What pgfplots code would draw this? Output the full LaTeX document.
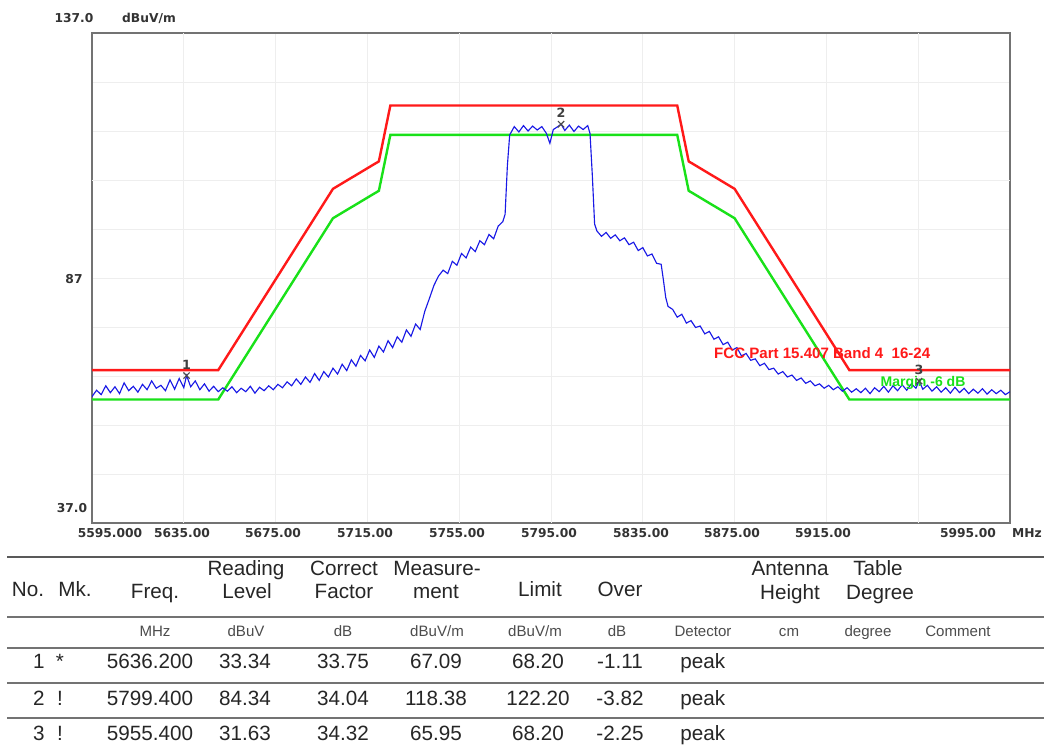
\documentclass[border=0pt]{standalone}
\usepackage{fontspec}
\setmainfont{Liberation Sans}
\newfontfamily\axfont{DejaVu Sans}
\usepackage{pgfplots}
\pgfplotsset{compat=1.18}
\definecolor{limred}{RGB}{255,25,25}
\definecolor{margreen}{RGB}{25,225,25}
\definecolor{trace}{RGB}{25,25,230}
\definecolor{frame}{RGB}{115,115,115}

\begin{document}
\begin{tikzpicture}
\useasboundingbox[fill=white] (0pt,0pt) rectangle (783pt,563.25pt);
\begin{axis}[
  at={(69pt,171pt)}, anchor=south west,
  width=688.5pt, height=367.5pt, scale only axis,
  xmin=5595, xmax=5995, ymin=37, ymax=137,
  xtick={5595,5635,...,5995}, ytick={47,57,...,127},
  xticklabels={}, yticklabels={},
  major tick length=0pt,
  grid=major,
  major grid style={gray!13, line width=0.6pt},
  extra x ticks={5635,5755,5795,5955}, extra x tick labels={},
  extra y ticks={107}, extra y tick labels={},
  extra tick style={grid style={gray!50, line width=0.7pt}},
  axis line style={frame, line width=1.3pt},
]
% limit line and margin line
\addplot[limred, line width=1.8pt] coordinates {
 (5595,68.2) (5650,68.2) (5700,105.2) (5720,110.8) (5725,122.2)
 (5850,122.2) (5855,110.8) (5875,105.2) (5925,68.2) (5995,68.2)};
\addplot[margreen, line width=1.8pt] coordinates {
 (5595,62.2) (5650,62.2) (5700,99.2) (5720,104.8) (5725,116.2)
 (5850,116.2) (5855,104.8) (5875,99.2) (5925,62.2) (5995,62.2)};
% measured trace
\addplot[trace, line width=0.85pt] table {
f v
5595 62.8
5597 64.1
5599 63.2
5601 65.0
5603 63.6
5605 64.8
5607 63.4
5609 65.6
5611 64.0
5613 64.9
5615 63.7
5617 65.3
5619 64.2
5621 66.0
5623 64.5
5625 65.1
5627 64.0
5629 66.2
5631 64.3
5633 66.5
5635 64.6
5636.2 67.1
5638 64.8
5640 66.0
5642 64.2
5644 65.4
5646 63.9
5648 64.9
5650 63.8
5652 64.6
5654 63.9
5656 64.8
5658 63.6
5660 64.5
5662 63.8
5664 64.9
5666 63.5
5668 64.7
5670 64.0
5672 65.0
5674 64.2
5676 65.3
5678 64.6
5680 65.8
5682 65.0
5684 66.4
5686 65.3
5688 66.8
5690 65.7
5692 67.5
5694 66.1
5696 67.9
5698 66.8
5700 68.6
5702 67.4
5704 69.4
5706 68.1
5708 70.3
5710 69.0
5712 71.2
5714 70.1
5716 72.3
5718 70.8
5720 73.1
5722 71.9
5724 74.2
5726 72.8
5728 75.0
5730 73.9
5732 76.4
5734 75.1
5736 77.6
5738 76.5
5740 80.2
5742 82.8
5744 85.5
5746 87.4
5748 88.6
5750 87.9
5752 90.4
5754 89.6
5756 92.0
5758 91.1
5760 93.3
5762 92.4
5764 94.6
5766 93.8
5768 95.9
5770 95.0
5772 97.6
5774 98.5
5775 100.0
5776 110.0
5777 116.2
5779 117.9
5781 116.8
5783 118.1
5785 117.0
5787 118.0
5789 117.2
5791 117.9
5793 116.5
5794.5 114.5
5796 117.3
5798 117.9
5799.4 118.4
5801 117.1
5803 118.2
5805 116.9
5807 118.0
5809 117.3
5811 118.1
5812 116.5
5813 108.0
5814 98.0
5815 96.6
5817 95.5
5819 96.3
5821 95.1
5823 95.8
5825 94.6
5827 95.2
5829 93.8
5831 94.3
5833 92.6
5835 93.2
5837 91.5
5839 91.9
5841 90.0
5843 89.8
5844 86.5
5845 83.0
5846 81.2
5848 80.6
5850 79.0
5852 79.6
5854 77.8
5856 78.3
5858 76.9
5860 77.2
5862 75.6
5864 76.1
5866 74.5
5868 75.0
5870 73.4
5872 73.9
5874 72.3
5876 72.8
5878 71.1
5880 71.6
5882 70.2
5884 70.5
5886 69.1
5888 69.6
5890 68.3
5892 68.6
5894 67.4
5896 67.9
5898 66.8
5900 67.2
5902 66.1
5904 66.6
5906 65.5
5908 66.0
5910 65.0
5912 65.4
5914 64.5
5916 65.1
5918 64.2
5920 64.8
5922 63.9
5924 64.6
5926 63.7
5928 64.4
5930 63.6
5932 64.5
5934 63.4
5936 64.6
5938 63.8
5940 64.9
5942 63.7
5944 65.0
5946 64.0
5948 65.2
5950 64.1
5952 65.4
5954 64.5
5955.4 66.0
5957 64.3
5959 65.1
5961 63.9
5963 64.8
5965 63.7
5967 64.6
5969 63.5
5971 64.7
5973 63.6
5975 64.5
5977 63.4
5979 64.3
5981 63.5
5983 64.4
5985 63.3
5987 64.2
5989 63.4
5991 64.1
5993 63.2
5995 63.8
};
% markers
\addplot[only marks, mark=x, mark size=3.3pt, black!70, line width=0.9pt,
  point meta=explicit symbolic, nodes near coords,
  nodes near coords style={font=\axfont\bfseries\fontsize{9.5}{9.5}\selectfont,
    text=black!75, anchor=south, yshift=1pt}]
  table[meta=lbl] {
f v lbl
5636.2 67.09 1
5799.4 118.38 2
5955.4 65.95 3
};
\node[limred, font=\bfseries\fontsize{11.3}{12}\selectfont, anchor=west, inner sep=0]
  at (axis cs:5866,71.7) {FCC Part 15.407 Band 4\ \ 16-24};
\node[margreen, font=\bfseries\fontsize{10.5}{12}\selectfont, anchor=west, inner sep=0]
  at (axis cs:5938.5,65.6) {Margin -6 dB};
\end{axis}

\begin{scope}[shift={(0pt,563.25pt)}, x=0.75pt, y=-0.75pt]
% axis annotations
\begin{scope}[every node/.style={font=\axfont\bfseries\fontsize{9.2}{10}\selectfont, text=black!80, inner sep=0}]
\node at (74,18) {137.0};
\node at (149,18) {dBuV/m};
\node at (74,279) {87};
\node at (72,508) {37.0};
\node at (110,533) {5595.000};
\node at (182,533) {5635.00};
\node at (273,533) {5675.00};
\node at (365,533) {5715.00};
\node at (457,533) {5755.00};
\node at (549,533) {5795.00};
\node at (641,533) {5835.00};
\node at (732,533) {5875.00};
\node at (823,533) {5915.00};
\node at (968,533) {5995.00};
\node at (1027,533) {MHz};
\end{scope}
% table rules
\draw[black!65, line width=1.8pt] (7,557) -- (1044,557);
\foreach \yy in {617,648,683,718}
  \draw[black!55, line width=1.35pt] (7,\yy) -- (1044,\yy);
% header
\begin{scope}[every node/.style={font=\fontsize{15.5}{17}\selectfont, text=black!85, inner sep=0, anchor=mid}]
\node at (28,593) {No.};
\node at (75,593) {Mk.};
\node at (155,595) {Freq.};
\node at (246,572) {Reading};
\node at (247,595) {Level};
\node at (344,572) {Correct};
\node at (344,595) {Factor};
\node at (437,572) {Measure-};
\node at (436,595) {ment};
\node at (540,593) {Limit};
\node at (620,593) {Over};
\node at (790,572) {Antenna};
\node at (790,596) {Height};
\node at (878,572) {Table};
\node at (880,596) {Degree};
\end{scope}
% units
\begin{scope}[every node/.style={font=\fontsize{11.3}{12}\selectfont, text=black!70, inner sep=0, anchor=mid}]
\node at (155,633) {MHz};
\node at (246,633) {dBuV};
\node at (343,633) {dB};
\node at (437,633) {dBuV/m};
\node at (535,633) {dBuV/m};
\node at (617,633) {dB};
\node at (703,633) {Detector};
\node at (789,633) {cm};
\node at (868,633) {degree};
\node at (958,633) {Comment};
\end{scope}
% rows
\begin{scope}[every node/.style={font=\fontsize{15.5}{17}\selectfont, text=black!85, inner sep=0, anchor=mid}]
\foreach \yy/\n/\m/\fr/\rl/\cf/\me/\li/\ov in {
  665/1/*/5636.200/33.34/33.75/67.09/68.20/-1.11,
  702/2/!/5799.400/84.34/34.04/118.38/122.20/-3.82,
  737/3/!/5955.400/31.63/34.32/65.95/68.20/-2.25}{
  \node[anchor=mid east] at (45,\yy) {\n};
  \node at (60,\yy) {\m};
  \node at (150,\yy) {\fr};
  \node at (245,\yy) {\rl};
  \node at (343,\yy) {\cf};
  \node at (436,\yy) {\me};
  \node at (538,\yy) {\li};
  \node at (620,\yy) {\ov};
  \node[anchor=mid west] at (680,\yy) {peak};
}
\end{scope}
\end{scope}
\end{tikzpicture}
\end{document}
